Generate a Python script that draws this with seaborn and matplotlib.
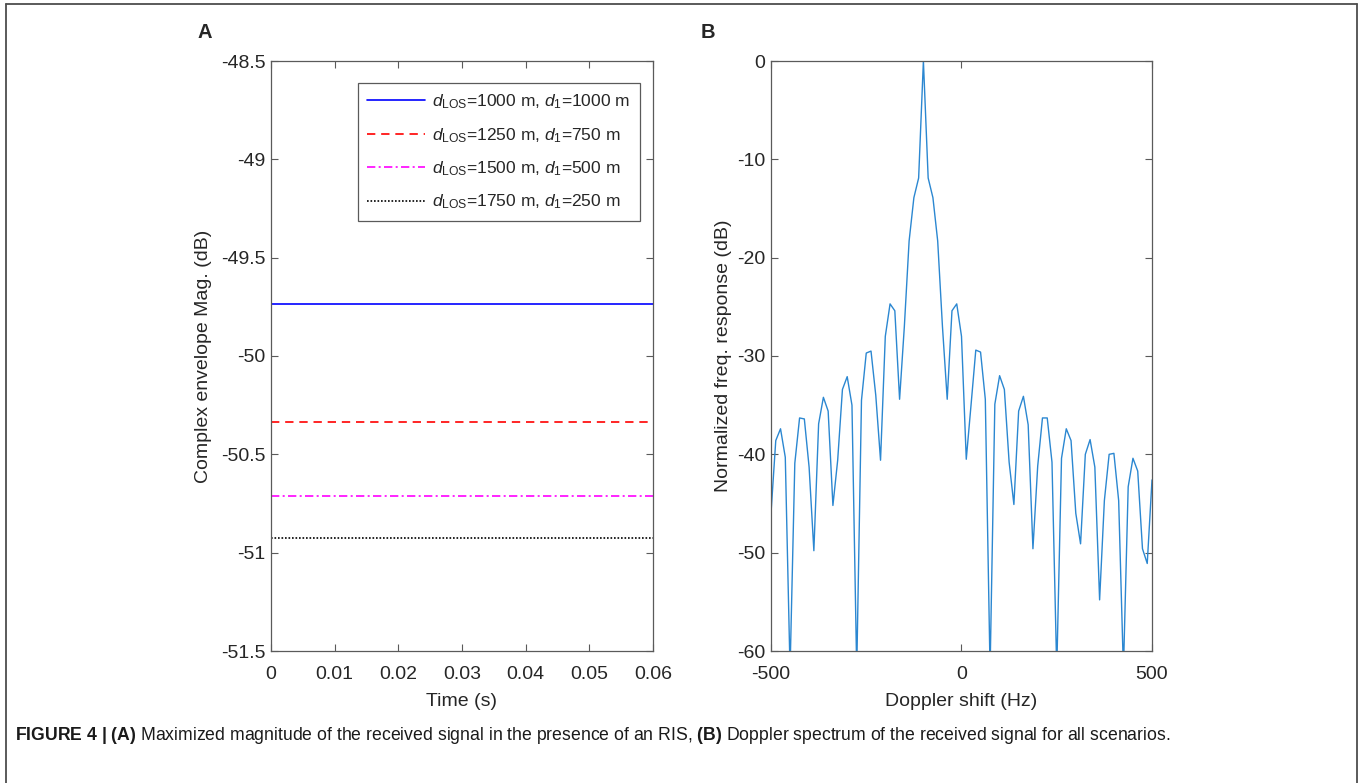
import numpy as np
import pandas as pd
import seaborn as sns
import matplotlib.pyplot as plt
from matplotlib.lines import Line2D

# -------------------------
# Data
# -------------------------

# Panel A: constant envelope magnitude per scenario (dB)
time_s = [0.0, 0.06]
scenario_labels = [
    r'$d_{\mathrm{LOS}}$=1000 m, $d_1$=1000 m',
    r'$d_{\mathrm{LOS}}$=1250 m, $d_1$=750 m',
    r'$d_{\mathrm{LOS}}$=1500 m, $d_1$=500 m',
    r'$d_{\mathrm{LOS}}$=1750 m, $d_1$=250 m',
]
envelope_db = [-49.735, -50.335, -50.71, -50.925]
line_colors = ['#0000ff', '#ff0000', '#ff00ff', '#000000']
line_styles = ['-', (0, (5, 3.5)), (0, (5, 2, 1.2, 2)), (0, (1, 1.1))]

a_xticks = [0, 0.01, 0.02, 0.03, 0.04, 0.05, 0.06]
a_xticklabels = ['0', '0.01', '0.02', '0.03', '0.04', '0.05', '0.06']
a_yticks = [-48.5, -49, -49.5, -50, -50.5, -51, -51.5]
a_yticklabels = ['-48.5', '-49', '-49.5', '-50', '-50.5', '-51', '-51.5']

# Panel B: Doppler spectrum, 12.5 Hz bins from -500 to 500 Hz
doppler_hz = np.arange(-500, 500 + 12.5, 12.5)
spectrum_db = [
    -46.0, -38.6, -37.4, -40.3, -62.0, -40.9, -36.3, -36.4, -41.3, -49.8,
    -36.9, -34.2, -35.6, -45.2, -40.6, -33.4, -32.1, -35.0, -62.0, -34.5,
    -29.7, -29.5, -34.0, -40.6, -28.0, -24.7, -25.4, -34.4, -27.0, -18.3,
    -13.9, -11.9, 0.0, -11.9, -13.9, -18.3, -27.0, -34.4, -25.4, -24.7,
    -28.0, -40.5, -35.0, -29.4, -29.6, -34.4, -62.0, -34.9, -32.0, -33.4,
    -40.8, -45.1, -35.6, -34.1, -37.0, -49.6, -41.2, -36.3, -36.3, -40.8,
    -62.0, -40.4, -37.4, -38.6, -46.0, -49.1, -40.0, -38.5, -41.3, -54.8,
    -44.7, -40.0, -39.9, -44.7, -62.0, -43.3, -40.4, -41.7, -49.6, -51.1,
    -42.6,
]
b_xticks = [-500, 0, 500]
b_xticklabels = ['-500', '0', '500']
b_yticks = [0, -10, -20, -30, -40, -50, -60]
b_yticklabels = ['0', '-10', '-20', '-30', '-40', '-50', '-60']

caption = (r'$\mathbf{FIGURE\ 4\ |\ (A)}$ Maximized magnitude of the received signal '
           r'in the presence of an RIS, $\mathbf{(B)}$ Doppler spectrum of the received '
           r'signal for all scenarios.')

# -------------------------
# Style (MATLAB-like)
# -------------------------
sns.set_theme(style='white')
plt.rcParams['font.family'] = ['Liberation Sans', 'DejaVu Sans']
plt.rcParams['mathtext.fontset'] = 'custom'
plt.rcParams['mathtext.rm'] = 'Liberation Sans'
plt.rcParams['mathtext.it'] = 'Liberation Sans:italic'
plt.rcParams['mathtext.bf'] = 'Liberation Sans:bold'
plt.rcParams['xtick.direction'] = 'in'
plt.rcParams['ytick.direction'] = 'in'

spine_col = '#5a5a5a'
text_col = '#262626'

fig = plt.figure(figsize=(13.62, 7.83), dpi=100)
W, H = 1362, 783
ax_a = fig.add_axes([271 / W, (H - 651) / H, 382 / W, 590 / H])
ax_b = fig.add_axes([771 / W, (H - 651) / H, 381 / W, 590 / H])

# Panel A
for lvl, lab, col, ls in zip(envelope_db, scenario_labels, line_colors, line_styles):
    sns.lineplot(x=time_s, y=[lvl] * len(time_s), ax=ax_a, color=col,
                 linestyle=ls, linewidth=1.2, label=lab)
ax_a.set_xlim(0, 0.06)
ax_a.set_ylim(-51.5, -48.5)
ax_a.set_xticks(a_xticks)
ax_a.set_xticklabels(a_xticklabels)
ax_a.set_yticks(a_yticks)
ax_a.set_yticklabels(a_yticklabels)
ax_a.set_xlabel('Time (s)', fontsize=14, color=text_col, labelpad=7)
ax_a.set_ylabel('Complex envelope Mag. (dB)', fontsize=14, color=text_col, labelpad=6)
leg = ax_a.legend(loc='upper right', bbox_to_anchor=(0.966, 0.963), borderaxespad=0,
                  fontsize=12.5, frameon=True, fancybox=False, framealpha=1,
                  handlelength=3.3, handletextpad=0.45, labelspacing=0.85,
                  borderpad=0.55)
leg.get_frame().set_edgecolor(spine_col)
leg.get_frame().set_linewidth(0.9)

# Panel B
sns.lineplot(x=doppler_hz, y=spectrum_db, ax=ax_b, color='#2b87d1', linewidth=1.0)
ax_b.set_xlim(-500, 500)
ax_b.set_ylim(-60, 0)
ax_b.set_xticks(b_xticks)
ax_b.set_xticklabels(b_xticklabels)
ax_b.set_yticks(b_yticks)
ax_b.set_yticklabels(b_yticklabels)
ax_b.set_xlabel('Doppler shift (Hz)', fontsize=14, color=text_col, labelpad=7)
ax_b.set_ylabel('Normalized freq. response (dB)', fontsize=14, color=text_col, labelpad=4)

for ax in (ax_a, ax_b):
    for sp in ax.spines.values():
        sp.set_visible(True)
        sp.set_color(spine_col)
        sp.set_linewidth(0.9)
    ax.tick_params(axis='both', which='both', direction='in', length=5, width=0.8,
                   color=spine_col, labelsize=14, labelcolor=text_col,
                   top=True, right=True, bottom=True, left=True)
    ax.tick_params(axis='x', pad=11)
    ax.tick_params(axis='y', pad=4)
    ax.grid(False)

# Panel letters
fig.text(205 / W, 1 - 32 / H, 'A', fontsize=14.5, fontweight='bold', ha='center', va='center')
fig.text(708 / W, 1 - 32 / H, 'B', fontsize=14.5, fontweight='bold', ha='center', va='center')

# Caption and outer frame
fig.text(15 / W, 1 - 735 / H, caption, fontsize=12.7, ha='left', va='center', color='#1a1a1a')
frame_col = '#4d4d4d'
fig.add_artist(Line2D([5.5 / W, 5.5 / W], [0, 1 - 4 / H], color=frame_col, lw=1.3))
fig.add_artist(Line2D([1356.5 / W, 1356.5 / W], [0, 1 - 4 / H], color=frame_col, lw=1.3))
fig.add_artist(Line2D([5.5 / W, 1356.5 / W], [1 - 4 / H, 1 - 4 / H], color=frame_col, lw=1.3))

fig.savefig('out.png', dpi=100)
